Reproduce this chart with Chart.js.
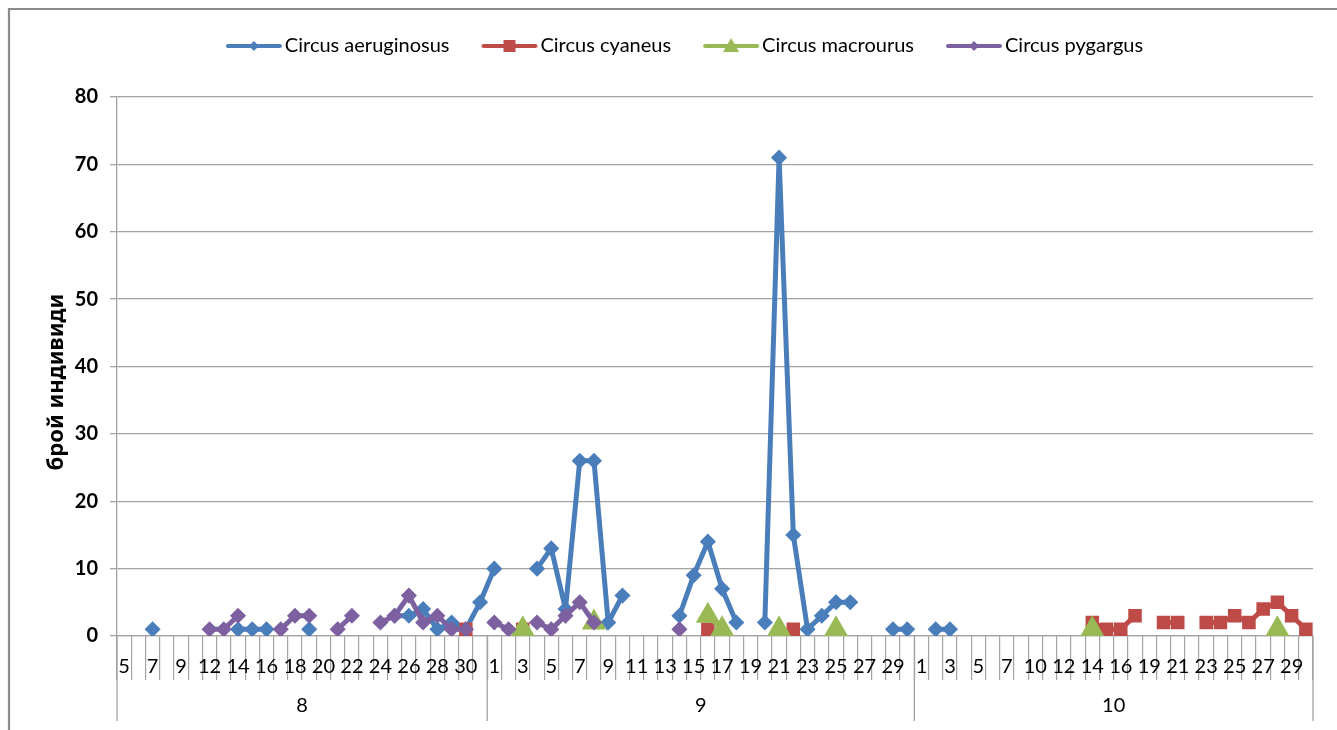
<!DOCTYPE html>
<html>
<head>
<meta charset="utf-8">
<title>Circus</title>
<script src="https://cdn.jsdelivr.net/npm/chart.js@4"></script>
<style>
  html, body { margin: 0; padding: 0; background: #fff; }
  #wrap { width: 1337px; height: 730px; }
</style>
</head>
<body>
<div id="wrap"><canvas id="harrierChart" width="1337" height="730"></canvas></div>
<script>
const _ = null;
const gap = n => new Array(n).fill(null);

// Observation days, grouped by month
const months = ['8', '9', '10'];
const daysAug = ['5', '6', '7', '8', '9', '10', '12', '13', '14', '15', '16', '17', '18', '19', '20',
                 '21', '22', '23', '24', '25', '26', '27', '28', '29', '30', '31'];
const daysSep = ['1', '2', '3', '4', '5', '6', '7', '8', '9', '10', '11', '12', '13', '14', '15',
                 '16', '17', '18', '19', '20', '21', '22', '23', '24', '25', '26', '27', '28', '29', '30'];
const daysOct = ['1', '2', '3', '4', '5', '6', '7', '8', '10', '11', '12', '13', '14', '15', '16',
                 '17', '19', '20', '21', '22', '23', '24', '25', '26', '27', '28', '29', '30'];
const monthDays = [daysAug, daysSep, daysOct];
const dayLabels = daysAug.concat(daysSep, daysOct);

const yTicks = [0, 10, 20, 30, 40, 50, 60, 70, 80];

// Counts per day (null = not recorded)
const aeruginosus = [
  _, _, 1, _, _, _, _, _, 1, 1, 1, _, _, 1, _, _, _, _, _, 3, 3, 4, 1, 2, 1, 5,
  10, _, _, 10, 13, 4, 26, 26, 2, 6, _, _, _, 3, 9, 14, 7, 2, _, 2, 71, 15, 1, 3, 5, 5, _, _, 1, 1,
  _, 1, 1, ...gap(25)
];
const cyaneus = [
  ...gap(24), 1, _,
  _, _, 1, _, _, _, _, _, _, _, _, _, _, _, _, 1, _, _, _, _, _, 1, _, _, _, _, _, _, _, _,
  ...gap(12), 2, 1, 1, 3, _, 2, 2, _, 2, 2, 3, 2, 4, 5, 3, 1
];
const macrourus = [
  ...gap(26),
  _, _, 1, _, _, _, _, 2, _, _, _, _, _, _, _, 3, 1, _, _, _, 1, _, _, _, 1, _, _, _, _, _,
  ...gap(12), 1, _, _, _, _, _, _, _, _, _, _, _, _, 1, _, _
];
const pygargus = [
  _, _, _, _, _, _, 1, 1, 3, _, _, 1, 3, 3, _, 1, 3, _, 2, 3, 6, 2, 3, 1, 1, _,
  2, 1, _, 2, 1, 3, 5, 2, _, _, _, _, _, 1, ...gap(16),
  ...gap(28)
];

const FONT = 'Lato, "Noto Sans", sans-serif';
const AXIS_GREY = '#a3a3a3';

const seriesStyles = [
  { color: '#4a7ebb', shape: 'rectRot', radius: 7, order: 3 },
  { color: '#be4b48', shape: 'rect', radius: 8.5, order: 2 },
  { color: '#98b954', shape: 'triangle', radius: 12.5, order: 1 },
  { color: '#7d60a0', shape: 'rectRot', radius: 7, order: 0 }
];

// Legend icon: short line with the marker in the middle
function legendSwatch(color, shape) {
  const c = document.createElement('canvas');
  c.width = 73;
  c.height = 18;
  const g = c.getContext('2d');
  g.strokeStyle = color;
  g.fillStyle = color;
  g.lineWidth = 4;
  g.lineCap = 'round';
  g.beginPath();
  g.moveTo(18, 9);
  g.lineTo(70, 9);
  g.stroke();
  const cx = 44, cy = 9;
  g.beginPath();
  if (shape === 'rectRot') {
    g.moveTo(cx, cy - 5); g.lineTo(cx + 5, cy); g.lineTo(cx, cy + 5); g.lineTo(cx - 5, cy);
  } else if (shape === 'rect') {
    g.rect(cx - 6, cy - 6, 12, 12);
  } else {
    g.moveTo(cx, cy - 8); g.lineTo(cx + 8, cy + 6); g.lineTo(cx - 8, cy + 6);
  }
  g.closePath();
  g.fill();
  return c;
}

function makeDataset(label, data, style) {
  return {
    label: label,
    data: data,
    borderColor: style.color,
    backgroundColor: style.color,
    borderWidth: 5,
    pointStyle: style.shape,
    pointRadius: style.radius,
    pointHoverRadius: style.radius,
    pointBorderWidth: 1.5,
    pointBorderColor: style.color,
    pointBackgroundColor: style.color,
    tension: 0,
    spanGaps: false,
    order: style.order
  };
}

// Taller legend box so the plot starts lower
const legendGap = {
  id: 'legendGap',
  afterInit(chart) {
    const legend = chart.legend;
    const fit = legend.fit;
    legend.fit = function () {
      fit.call(this);
      this.height = 85;
    };
  }
};

// Frame, y title and the month row under the day labels
const monthAxis = {
  id: 'monthAxis',
  beforeDraw(chart) {
    const ctx = chart.ctx;
    ctx.save();
    ctx.fillStyle = '#fff';
    ctx.fillRect(0, 0, chart.width, chart.height);
    ctx.strokeStyle = '#8c8c8c';
    ctx.lineWidth = 2.2;
    ctx.beginPath();
    ctx.moveTo(9, chart.height);
    ctx.lineTo(9, 9);
    ctx.lineTo(chart.width, 9);
    ctx.stroke();
    ctx.restore();
  },
  afterDraw(chart) {
    const ctx = chart.ctx;
    const x = chart.scales.x;
    const area = chart.chartArea;
    const half = (x.getPixelForValue(1) - x.getPixelForValue(0)) / 2;
    ctx.save();
    ctx.strokeStyle = AXIS_GREY;
    ctx.lineWidth = 1.3;
    ctx.fillStyle = '#000';
    ctx.font = '20px ' + FONT;
    ctx.textAlign = 'center';
    ctx.textBaseline = 'middle';
    let start = 0;
    const edges = [x.getPixelForValue(0) - half];
    monthDays.forEach((days, m) => {
      const end = start + days.length;
      const right = x.getPixelForValue(end - 1) + half;
      edges.push(right);
      ctx.fillText(months[m], (edges[m] + right) / 2, area.bottom + 70);
      start = end;
    });
    ctx.beginPath();
    edges.forEach(px => {
      ctx.moveTo(px, area.bottom);
      ctx.lineTo(px, area.bottom + 85);
    });
    ctx.stroke();

    // y axis title
    ctx.translate(57, 382);
    ctx.rotate(-Math.PI / 2);
    ctx.font = 'bold 22px "Noto Sans", sans-serif';
    ctx.fillText('брой индивиди', 0, 0);
    ctx.restore();
  }
};

const swatches = seriesStyles.map(s => legendSwatch(s.color, s.shape));

new Chart(document.getElementById('harrierChart'), {
  type: 'line',
  data: {
    labels: dayLabels,
    datasets: [
      makeDataset('Circus aeruginosus', aeruginosus, seriesStyles[0]),
      makeDataset('Circus cyaneus', cyaneus, seriesStyles[1]),
      makeDataset('Circus macrourus', macrourus, seriesStyles[2]),
      makeDataset('Circus pygargus', pygargus, seriesStyles[3])
    ]
  },
  options: {
    responsive: false,
    animation: false,
    layout: {
      padding: { left: 48, right: 24, top: 12, bottom: 0 }
    },
    plugins: {
      legend: {
        position: 'top',
        labels: {
          usePointStyle: true,
          pointStyleWidth: 57,
          padding: 24,
          color: '#000',
          font: { family: FONT, size: 20 },
          sort: (a, b) => a.datasetIndex - b.datasetIndex,
          generateLabels(chart) {
            const items = Chart.defaults.plugins.legend.labels.generateLabels(chart);
            items.forEach(item => {
              item.pointStyle = swatches[item.datasetIndex];
              item.rotation = 0;
            });
            return items;
          }
        }
      },
      tooltip: { enabled: false }
    },
    scales: {
      x: {
        type: 'category',
        offset: true,
        ticks: {
          autoSkip: false,
          maxRotation: 0,
          minRotation: 0,
          padding: -25,
          color: '#000',
          font: { family: FONT, size: 20 },
          callback(value, index) {
            return index % 2 === 0 ? this.getLabelForValue(value) : '';
          }
        },
        grid: {
          offset: true,
          drawOnChartArea: false,
          tickLength: 44,
          tickColor: AXIS_GREY,
          lineWidth: 1.2
        },
        border: { color: AXIS_GREY, width: 1.3 },
        afterFit(axis) { axis.height = 94; }
      },
      y: {
        min: yTicks[0],
        max: yTicks[yTicks.length - 1],
        afterBuildTicks(axis) {
          axis.ticks = yTicks.map(v => ({ value: v }));
        },
        ticks: {
          padding: 12,
          color: '#000',
          font: { family: FONT, size: 20, weight: 'bold' }
        },
        grid: {
          color: AXIS_GREY,
          lineWidth: 1.3,
          tickLength: 7,
          tickColor: AXIS_GREY
        },
        border: { color: AXIS_GREY, width: 1.3 },
        afterFit(axis) { axis.width = 69; }
      }
    }
  },
  plugins: [legendGap, monthAxis]
});
</script>
</body>
</html>
